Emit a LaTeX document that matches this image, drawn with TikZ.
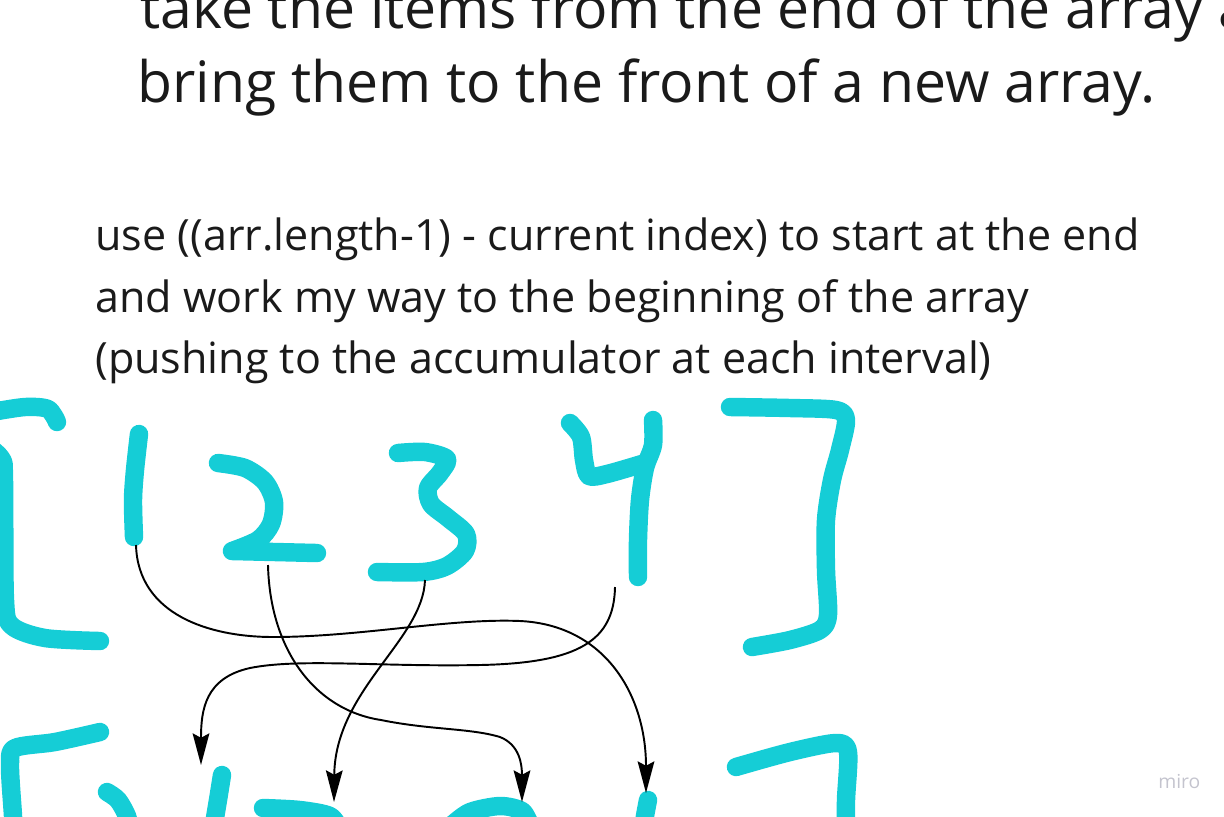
\documentclass[tikz,border=0pt]{standalone}
\usepackage{fontspec}
\setmainfont{Open Sans}
\usetikzlibrary{arrows.meta}
\definecolor{MarkerClr}{RGB}{21,205,214}
\definecolor{TextClr}{RGB}{26,26,26}
\definecolor{LogoClr}{RGB}{196,196,206}

\begin{document}
\begin{tikzpicture}[x=0.02cm,y=-0.02cm,
  marker/.style={MarkerClr,line width=10.5pt,line cap=round,line join=round},
  link/.style={line width=1.1pt,-{Stealth[length=18pt,width=9.5pt,inset=2.5pt]}},
  note/.style={anchor=base west,inner sep=0pt,text=TextClr,font=\fontsize{24.5}{30}\selectfont},
  heading/.style={note,font=\fontsize{32.5}{40}\selectfont}]
\useasboundingbox (0,0) rectangle (1224,816);
\clip (0,0) rectangle (1224,816);

% text
\node[heading] (head1) at (140,28) {take the items from the end of the array and};
\node[heading] (head2) at (137,102) {bring them to the front of a new array.};
\node[note] (line1) at (95,250) {use ((arr.length-1) - current index) to start at the end};
\node[note] (line2) at (95,312) {and work my way to the beginning of the array};
\node[note] (line3) at (95,373) {(pushing to the accumulator at each interval)};
\node[anchor=base west,inner sep=0pt,text=LogoClr,font=\fontsize{11}{13}\selectfont] (logo) at (1158,788) {miro};

% old array [1 2 3 4]
\draw[marker] plot[smooth] coordinates {(57,422) (48,409) (25,407) (-8,412)};
\draw[marker] plot[smooth] coordinates {(-20,440) (1,458) (4,480) (5,600) (12,626) (45,638) (100,641)};
\draw[marker] plot[smooth] coordinates {(139,434) (135,470) (133,500) (134,537)};
\draw[marker] plot[smooth] coordinates {(218,463) (245,468) (265,482) (274,502) (271,524) (258,540) (232,551)} -- (317,553);
\draw[marker] plot[smooth] coordinates {(398,453) (425,452) (447,459) (440,473) (428,488) (431,504) (448,518) (466,534) (465,551) (447,566) (423,572) (377,572)};
\draw[marker] plot[smooth] coordinates {(570,423) (581,437) (584,460) (589,476) (607,474) (645,463)};
\draw[marker] plot[smooth] coordinates {(653,420) (653,445) (645,468) (640,500) (638,540) (638,577)};
\draw[marker] plot[smooth] coordinates {(730,407) (790,408) (836,410) (846,420) (840,450) (832,480) (826,520) (826,570) (828,615) (820,630) (790,640) (752,647)};

% new array [4 3 2 1]
\draw[marker] plot[smooth] coordinates {(100,732) (55,742) (15,748) (10,765) (13,816) (14,840)};
\draw[marker] plot[smooth] coordinates {(107,792) (118,800) (127,816) (130,830)};
\draw[marker] plot[smooth] coordinates {(222,775) (218,800) (213,830)};
\draw[marker] plot[smooth] coordinates {(263,808) (300,810) (330,816) (340,830)};
\draw[marker] plot[smooth] coordinates {(452,825) (470,812) (500,806) (522,811) (530,825)};
\draw[marker] plot[smooth] coordinates {(648,800) (645,816) (643,830)};
\draw[marker] plot[smooth] coordinates {(736,767) (790,752) (836,743) (848,752) (846,800) (846,830)};

% connectors
\coordinate (out1) at (136,545);
\coordinate (out2) at (268,565);
\coordinate (out3) at (425,580);
\coordinate (out4) at (615,587);
\coordinate (in1) at (201,765);
\coordinate (in2) at (334,802);
\coordinate (in3) at (522,802);
\coordinate (in4) at (646,793);

\draw[link] (out1) .. controls (138,615) and (210,637) .. (273,637)
  .. controls (360,637) and (450,618) .. (520,621)
  .. controls (605,625) and (646,695) .. (in4);
\draw[link] (out2) .. controls (270,650) and (315,710) .. (381,720)
  .. controls (430,730) and (470,728) .. (500,737)
  .. controls (520,745) and (522,765) .. (in3);
\draw[link] (out3) .. controls (423,640) and (335,690) .. (in2);
\draw[link] (out4) .. controls (614,640) and (580,663) .. (480,665)
  .. controls (380,667) and (300,658) .. (250,668)
  .. controls (205,678) and (201,710) .. (in1);
\end{tikzpicture}
\end{document}
